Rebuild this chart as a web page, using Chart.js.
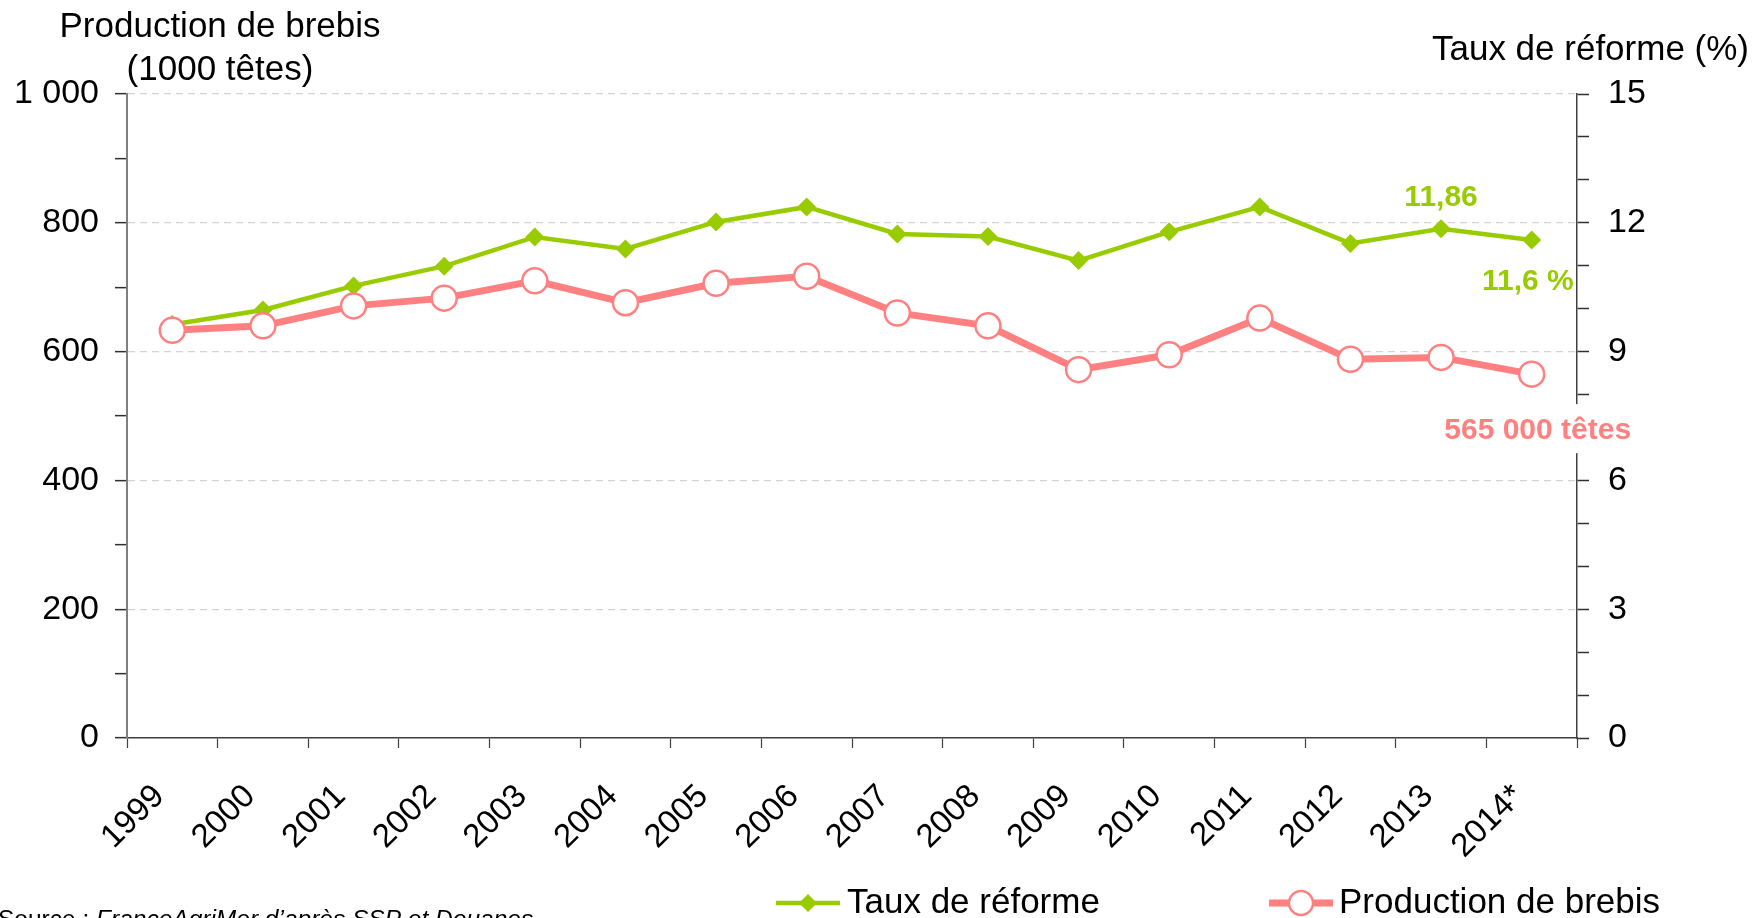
<!DOCTYPE html>
<html>
<head>
<meta charset="utf-8">
<script src="https://cdn.jsdelivr.net/npm/chart.js@4"></script>
<style>
html,body{margin:0;padding:0;background:#fff;overflow:hidden;}
#wrap{width:1756px;height:918px;position:relative;}
</style>
</head>
<body>
<div id="wrap"><canvas id="c"></canvas></div>
<script>
// ---- data ----
const years = ['1999','2000','2001','2002','2003','2004','2005','2006','2007','2008','2009','2010','2011','2012','2013','2014*'];
const productionBrebis = [633, 640, 671, 683, 710, 676, 706, 717, 660, 640, 572, 595, 652, 588, 591, 565];
const tauxReforme = [9.63, 9.97, 10.53, 10.99, 11.67, 11.39, 12.02, 12.37, 11.74, 11.68, 11.12, 11.79, 12.37, 11.52, 11.86, 11.6];
const leftTickLabels = ['0', '200', '400', '600', '800', '1 000'];
const rightTickLabels = ['0', '3', '6', '9', '12', '15'];
const leftTitle = ['Production de brebis', '(1000 têtes)'];
const rightTitle = 'Taux de réforme (%)';
const legendLabels = ['Taux de réforme', 'Production de brebis'];
const sourceText = ['Source : ', 'FranceAgriMer d\u2019après SSP et Douanes'];
const tauxAnnot = ['11,86', '11,6 %'];
const prodAnnot = '565 000 têtes';

const GREEN = '#99CC00';
const PINK = '#FF8080';
const FONT = '"Liberation Sans", Arial, Helvetica, sans-serif';

const overlay = {
  id: 'overlay',
  afterDraw(chart) {
    const ctx = chart.ctx;
    const mT = chart.getDatasetMeta(0).data;
    const mP = chart.getDatasetMeta(1).data;
    const n = mT.length;
    ctx.save();
    // data annotations
    ctx.font = 'bold 30px ' + FONT;
    ctx.fillStyle = GREEN;
    ctx.textBaseline = 'middle';
    ctx.textAlign = 'center';
    ctx.fillText(tauxAnnot[0], mT[n - 2].x, mT[n - 2].y - 31);
    ctx.textAlign = 'right';
    ctx.fillText(tauxAnnot[1], mT[n - 1].x + 42, mT[n - 1].y + 42);
    // production annotation with white background covering the axis
    const px = mP[n - 1].x + 6, py = mP[n - 1].y + 57;
    const w = ctx.measureText(prodAnnot).width;
    ctx.fillStyle = '#fff';
    ctx.fillRect(px - w / 2 - 4, py - 27, w + 8, 49);
    ctx.fillStyle = PINK;
    ctx.textAlign = 'center';
    ctx.fillText(prodAnnot, px, py);

    // axis titles
    ctx.fillStyle = '#000';
    ctx.font = '35px ' + FONT;
    ctx.textAlign = 'center';
    ctx.fillText(leftTitle[0], 220, 27);
    ctx.fillText(leftTitle[1], 220, 70);
    ctx.textAlign = 'right';
    ctx.fillText(rightTitle, 1749, 50);

    // legend
    const ly = 903;
    ctx.lineCap = 'butt';
    ctx.strokeStyle = GREEN; ctx.lineWidth = 4.5;
    ctx.beginPath(); ctx.moveTo(776, ly); ctx.lineTo(840, ly); ctx.stroke();
    ctx.fillStyle = GREEN;
    ctx.beginPath(); ctx.moveTo(808, ly - 9); ctx.lineTo(817, ly); ctx.lineTo(808, ly + 9); ctx.lineTo(799, ly); ctx.closePath(); ctx.fill();
    ctx.strokeStyle = PINK; ctx.lineWidth = 7;
    ctx.beginPath(); ctx.moveTo(1269, ly); ctx.lineTo(1333, ly); ctx.stroke();
    ctx.fillStyle = '#fff'; ctx.lineWidth = 2.5;
    ctx.beginPath(); ctx.arc(1301, ly, 12, 0, Math.PI * 2); ctx.fill(); ctx.stroke();
    ctx.fillStyle = '#000';
    ctx.font = '35px ' + FONT;
    ctx.textAlign = 'left';
    ctx.fillText(legendLabels[0], 847, ly);
    ctx.fillText(legendLabels[1], 1339, ly);

    // source
    ctx.textBaseline = 'alphabetic';
    ctx.font = '24.5px ' + FONT;
    ctx.fillText(sourceText[0], -2, 927);
    const sw = ctx.measureText(sourceText[0]).width;
    ctx.font = 'italic 24.5px ' + FONT;
    ctx.fillText(sourceText[1], -2 + sw, 927);
    ctx.restore();
  }
};

new Chart(document.getElementById('c'), {
  type: 'line',
  data: {
    labels: years,
    datasets: [
      {
        label: legendLabels[0],
        data: tauxReforme,
        yAxisID: 'yR',
        borderColor: GREEN,
        backgroundColor: GREEN,
        borderWidth: 4.5,
        pointStyle: 'rectRot',
        pointRadius: 9.5,
        pointBorderWidth: 0,
        pointBackgroundColor: GREEN,
        tension: 0,
        order: 1
      },
      {
        label: legendLabels[1],
        data: productionBrebis,
        yAxisID: 'yL',
        borderColor: PINK,
        backgroundColor: '#fff',
        borderWidth: 7,
        pointStyle: 'circle',
        pointRadius: 12.5,
        pointBorderWidth: 2.5,
        pointBorderColor: PINK,
        pointBackgroundColor: '#fff',
        tension: 0,
        order: 0
      }
    ]
  },
  options: {
    responsive: true,
    maintainAspectRatio: false,
    devicePixelRatio: 1,
    animation: false,
    layout: { padding: { top: 94, left: 0, right: 0, bottom: 0 } },
    plugins: { legend: { display: false }, tooltip: { enabled: false }, title: { display: false } },
    scales: {
      x: {
        type: 'category',
        offset: true,
        afterFit: (s) => { s.height = 180; },
        grid: { display: true, offset: true, drawOnChartArea: false, drawTicks: true, tickLength: 10, tickColor: '#404040', tickWidth: 1.2 },
        border: { display: true, color: '#404040', width: 1.5 },
        ticks: {
          color: '#000', font: { family: FONT, size: 33 },
          minRotation: 45, maxRotation: 45, padding: 29, autoSkip: false, labelOffset: -13
        }
      },
      yL: {
        type: 'linear', position: 'left', min: 0, max: 1000,
        afterFit: (s) => { s.width = 127; },
        grid: {
          display: true, drawOnChartArea: true, drawTicks: true, tickLength: 12,
          color: (c) => (c.tick && c.tick.value % 200 === 0 && c.tick.value !== 0) ? '#d4d4d4' : 'rgba(0,0,0,0)',
          lineWidth: 1.3,
          tickColor: '#303030', tickWidth: 1.5, tickBorderDash: []
        },
        border: { display: true, color: '#7f7f7f', width: 2, dash: [7, 5] },
        ticks: {
          stepSize: 100, autoSkip: false, padding: 16, color: '#000',
          font: { family: FONT, size: 34 },
          callback: (v) => (v % 200 === 0 ? leftTickLabels[v / 200] : '')
        }
      },
      yR: {
        type: 'linear', position: 'right', min: 0, max: 15,
        afterFit: (s) => { s.width = 179; },
        grid: { display: true, drawOnChartArea: false, drawTicks: true, tickLength: 12, color: 'rgba(0,0,0,0)', tickColor: '#303030', tickWidth: 1.5, tickBorderDash: [] },
        border: { display: true, color: '#404040', width: 1.5 },
        ticks: {
          stepSize: 1, autoSkip: false, padding: 19, color: '#000',
          font: { family: FONT, size: 34 },
          callback: (v) => (v % 3 === 0 ? rightTickLabels[v / 3] : '')
        }
      }
    }
  },
  plugins: [overlay]
});
</script>
</body>
</html>
